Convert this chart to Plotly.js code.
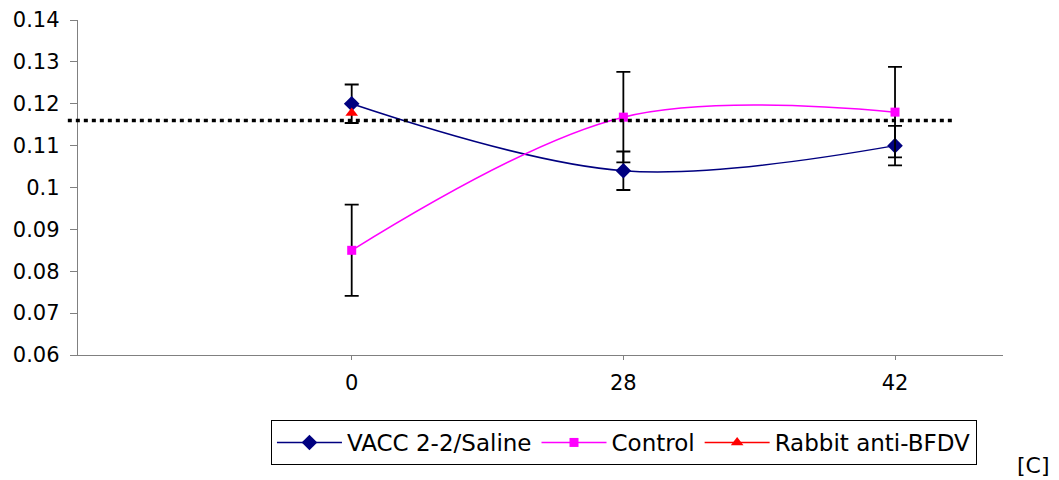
<!DOCTYPE html>
<html>
<head>
<meta charset="utf-8">
<script src="https://cdn.plot.ly/plotly-3.0.1.min.js"></script>
<style>html,body{margin:0;padding:0;background:#fff;}#chart{width:1059px;height:480px;}</style>
</head>
<body>
<div id="chart"></div>
<script>
const days = ['0', '28', '42'];
const vaccValues = [0.120, 0.104, 0.110];
const vaccErrors = [0.0046, 0.0046, 0.0047];
const controlValues = [0.085, 0.1168, 0.118];
const controlErrors = [0.0109, 0.0108, 0.0108];
const rabbitDays = ['0'];
const rabbitValues = [0.1178];
const referenceLevel = 0.116;

const font = 'DejaVu Sans, Liberation Sans, Arial, sans-serif';

const traces = [
  {
    x: days, y: vaccValues, type: 'scatter', mode: 'lines+markers',
    name: 'VACC 2-2/Saline',
    line: {color: '#000080', width: 1.5, shape: 'spline', smoothing: 1},
    marker: {symbol: 'diamond', size: 12, color: '#000080'},
    error_y: {type: 'data', array: vaccErrors, visible: true, color: '#000', thickness: 1.8, width: 7}
  },
  {
    x: days, y: controlValues, type: 'scatter', mode: 'lines+markers',
    name: 'Control',
    line: {color: '#FF00FF', width: 1.5, shape: 'spline', smoothing: 1},
    marker: {symbol: 'square', size: 9, color: '#FF00FF'},
    error_y: {type: 'data', array: controlErrors, visible: true, color: '#000', thickness: 1.8, width: 7}
  },
  {
    x: rabbitDays, y: rabbitValues, type: 'scatter', mode: 'lines+markers',
    name: 'Rabbit anti-BFDV',
    line: {color: '#FF0000', width: 1.5},
    marker: {symbol: 'triangle-up', size: 11, color: '#FF0000'}
  }
];

const layout = {
  width: 1059, height: 480,
  margin: {l: 78, r: 56, t: 20, b: 125},
  paper_bgcolor: '#fff', plot_bgcolor: '#fff',
  font: {family: font, size: 21, color: '#000'},
  showlegend: true,
  xaxis: {
    type: 'category', range: [-1.0075, 2.3975],
    showgrid: false, zeroline: false,
    showline: true, linecolor: '#808080', linewidth: 1.2,
    ticks: 'outside', ticklen: 4, tickcolor: '#808080', tickwidth: 1,
    ticklabelstandoff: 5,
    tickfont: {family: font, size: 21, color: '#000'}
  },
  yaxis: {
    range: [0.06, 0.14], dtick: 0.01, tick0: 0.06,
    showgrid: false, zeroline: false,
    showline: true, linecolor: '#808080', linewidth: 1.2,
    ticks: 'outside', ticklen: 7, tickcolor: '#808080', tickwidth: 1,
    ticklabelstandoff: 6,
    tickfont: {family: font, size: 21, color: '#000'}
  },
  legend: {
    orientation: 'h', x: 0.2086, xanchor: 'left', y: -0.194, yanchor: 'top',
    bordercolor: '#000', borderwidth: 1, bgcolor: '#fff',
    font: {family: font, size: 23, color: '#000'},
    itemwidth: 65
  },
  shapes: [
    {
      type: 'line', xref: 'paper', yref: 'y',
      x0: -0.011, x1: 0.949, y0: referenceLevel, y1: referenceLevel,
      line: {color: '#000', width: 3.5, dash: '4px,4px'}
    }
  ],
  annotations: [
    {
      text: '[C]', xref: 'paper', yref: 'paper', x: 1.0335, y: -0.33,
      xanchor: 'center', yanchor: 'middle', showarrow: false,
      font: {family: font, size: 22, color: '#000'}
    }
  ]
};

Plotly.newPlot('chart', traces, layout, {displayModeBar: false, staticPlot: true});
</script>
</body>
</html>
